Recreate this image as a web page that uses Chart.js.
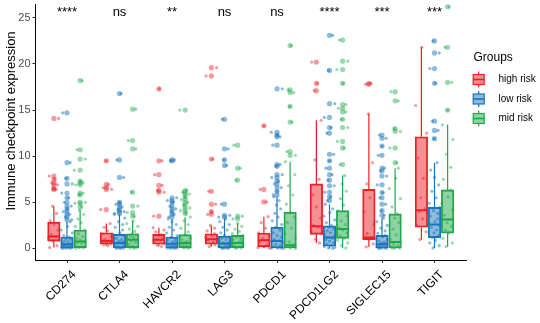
<!DOCTYPE html>
<html>
<head>
<meta charset="utf-8">
<script src="https://cdn.jsdelivr.net/npm/chart.js@4.4.1/dist/chart.umd.min.js"></script>
<style>
  html, body { margin: 0; padding: 0; background: #fff; }
  #wrap { width: 540px; height: 323px; }
</style>
</head>
<body>
<div id="wrap"><canvas id="chart" width="540" height="323"></canvas></div>
<script>
// ===== Immune checkpoint boxplot (high / low / mid risk) =====

const genes = ['CD274', 'CTLA4', 'HAVCR2', 'LAG3', 'PDCD1', 'PDCD1LG2', 'SIGLEC15', 'TIGIT'];
const groups = ['high risk', 'low risk', 'mid risk'];
const sigLabels = ['****', 'ns', '**', 'ns', 'ns', '****', '***', '***'];
const yTicks = [0, 5, 10, 15, 20, 25];

// box stats per gene: [lower whisker, q1, median, q3, upper whisker]
const highBox = [
    [0.1, 0.8, 1.3, 2.85, 4.6],
    [0.3, 0.46, 0.8, 1.7, 2.7],
    [0.2, 0.46, 0.95, 1.53, 2.25],
    [0.2, 0.46, 1.0, 1.6, 2.5],
    [0.05, 0.17, 0.9, 1.67, 3.45],
    [0.6, 1.53, 2.4, 7.0, 13.9],
    [0.17, 0.96, 1.18, 6.4, 14.6],
    [0.96, 2.3, 4.15, 12.1, 21.8]
];
const lowBox = [
    [0, 0.05, 0.45, 1.24, 2.9],
    [0, 0.05, 0.6, 1.53, 3.7],
    [0, 0.05, 0.5, 1.24, 3.2],
    [0, 0.05, 0.55, 1.32, 3.2],
    [0, 0.05, 0.8, 2.3, 5.6],
    [0, 0.25, 1.2, 2.45, 4.8],
    [0, 0.05, 0.45, 1.42, 3.3],
    [0.05, 1.18, 2.6, 4.45, 9.3]
];
const midBox = [
    [0, 0.1, 0.75, 2.0, 4.15],
    [0, 0.1, 0.95, 1.6, 3.0],
    [0, 0.1, 0.6, 1.5, 3.4],
    [0, 0.1, 0.6, 1.42, 2.7],
    [0, 0.05, 0.35, 3.92, 9.4],
    [0.05, 1.1, 2.1, 4.1, 7.9],
    [0, 0.05, 0.7, 3.75, 8.7],
    [0.2, 1.67, 3.14, 6.35, 13.4]
];

// outliers (drawn at the box centre)
const highOut = [
    [14.1, 7.85, 7.5, 7.1, 6.9, 6.5, 6.4],
    [9.5, 6.95, 6.6, 6.4, 4.2],
    [17.3, 9.5, 8.0, 6.85, 6.3, 6.1, 3.5],
    [19.6, 18.7, 9.7, 6.2, 4.8, 4.0, 3.7],
    [13.3, 6.4, 5.05],
    [20.2, 17.9, 17.1],
    [17.9, 17.8],
    []
];
const lowOut = [
    [14.7, 9.3, 7.6, 7.0, 6.0, 5.5, 5.0, 4.6, 4.3, 4.0, 3.7, 3.4, 3.1],
    [16.8, 9.6, 7.7, 5.0, 4.8, 4.5, 4.2, 4.0, 3.8],
    [9.6, 9.5, 5.5, 5.2, 5.0, 4.6, 4.3, 4.0, 3.7, 3.4],
    [14.0, 10.8, 9.6, 9.0, 4.8, 3.6, 3.4],
    [17.3, 12.6, 12.3, 12.1, 11.2, 9.1, 8.9, 8.0, 7.7, 7.3, 7.0, 6.6, 6.2, 5.8],
    [23.1, 19.3, 15.7, 14.2, 13.1, 12.5, 10.2, 9.5, 8.7, 8.0, 7.4, 6.8, 6.1, 5.6, 5.2],
    [12.3, 11.95, 11.1, 10.1, 8.7, 8.4, 7.85, 6.9, 6.06, 5.5, 4.8, 4.1, 3.6],
    [22.5, 21.2, 19.5, 17.9, 13.8, 12.8, 11.9]
];
const midOut = [
    [18.2, 10.7, 9.7, 8.5, 7.3, 7.1, 6.9, 6.0, 5.8, 5.0, 4.9, 4.5],
    [15.1, 11.7, 10.8, 6.1, 4.6, 3.9, 3.5],
    [15.0, 6.3, 6.1, 5.9, 5.6, 5.3, 5.0, 4.7, 4.4, 4.1, 3.8],
    [11.2, 8.7, 7.4, 3.5, 3.2],
    [22.0, 17.2, 16.9, 15.4, 13.7, 10.5, 10.1],
    [22.6, 20.3, 19.4, 17.9, 15.6, 15.2, 14.8, 14.0, 13.1, 11.6, 10.9, 9.1],
    [17.0, 16.0, 13.0, 12.7, 10.9, 9.3],
    [26.2, 21.8, 18.0, 15.0]
];

// sample values inside the whiskers (jittered points)
const highVals = [
    [0.1, 0.3, 0.8, 0.9, 1.1, 1.3, 1.5, 2.0, 2.6, 3.0, 3.8, 4.6],
    [0.3, 0.4, 0.5, 0.6, 0.8, 0.8, 1.0, 1.3, 1.6, 1.9, 2.3, 2.7],
    [0.2, 0.35, 0.5, 0.7, 0.9, 1.0, 1.2, 1.4, 1.5, 1.8, 2.0, 2.25],
    [0.2, 0.4, 0.5, 0.7, 0.9, 1.0, 1.2, 1.4, 1.6, 1.9, 2.2, 2.5],
    [0.05, 0.1, 0.2, 0.4, 0.7, 0.9, 1.1, 1.4, 1.7, 2.2, 2.8, 3.45],
    [0.6, 1.0, 1.6, 1.9, 2.3, 2.5, 3.3, 4.5, 5.8, 7.5, 9.6, 13.9],
    [0.17, 0.5, 1.0, 1.1, 1.2, 1.6, 2.6, 4.0, 5.5, 7.0, 9.3, 14.6],
    [0.96, 1.8, 2.5, 3.2, 4.0, 4.3, 5.5, 7.6, 9.8, 12.5, 15.5, 21.8]
];
const lowVals = [
    [0.0, 0.02, 0.03, 0.05, 0.08, 0.1, 0.15, 0.2, 0.28, 0.35, 0.42, 0.48, 0.55, 0.65, 0.75, 0.85, 1.0, 1.1, 1.24, 1.4, 1.7, 2.0, 2.4, 2.9],
    [0.0, 0.02, 0.04, 0.06, 0.1, 0.18, 0.25, 0.35, 0.45, 0.55, 0.62, 0.7, 0.8, 0.95, 1.1, 1.3, 1.5, 1.7, 2.0, 2.3, 2.6, 2.9, 3.3, 3.7],
    [0.0, 0.02, 0.04, 0.06, 0.1, 0.15, 0.22, 0.3, 0.38, 0.45, 0.52, 0.6, 0.7, 0.8, 0.92, 1.05, 1.2, 1.4, 1.7, 2.0, 2.3, 2.6, 2.9, 3.2],
    [0.0, 0.02, 0.04, 0.06, 0.1, 0.16, 0.24, 0.32, 0.4, 0.5, 0.56, 0.64, 0.74, 0.85, 0.97, 1.1, 1.25, 1.45, 1.7, 2.0, 2.3, 2.6, 2.9, 3.2],
    [0.0, 0.02, 0.05, 0.1, 0.2, 0.3, 0.45, 0.6, 0.75, 0.85, 1.0, 1.2, 1.4, 1.7, 2.0, 2.3, 2.6, 3.0, 3.4, 3.8, 4.3, 4.7, 5.2, 5.6],
    [0.0, 0.05, 0.12, 0.2, 0.3, 0.45, 0.6, 0.8, 0.95, 1.1, 1.2, 1.35, 1.5, 1.7, 1.9, 2.1, 2.3, 2.5, 2.8, 3.1, 3.5, 3.9, 4.3, 4.8],
    [0.0, 0.02, 0.04, 0.06, 0.1, 0.15, 0.22, 0.3, 0.38, 0.45, 0.52, 0.6, 0.7, 0.82, 0.95, 1.1, 1.25, 1.42, 1.65, 1.9, 2.2, 2.5, 2.9, 3.3],
    [0.05, 0.3, 0.6, 0.9, 1.18, 1.4, 1.7, 2.0, 2.3, 2.5, 2.7, 2.9, 3.2, 3.5, 3.8, 4.1, 4.45, 4.9, 5.5, 6.2, 6.9, 7.7, 8.5, 9.3]
];
const midVals = [
    [0.0, 0.05, 0.1, 0.2, 0.35, 0.5, 0.65, 0.75, 0.9, 1.1, 1.3, 1.6, 2.0, 2.4, 2.8, 3.2, 3.7, 4.15],
    [0.0, 0.05, 0.1, 0.25, 0.45, 0.65, 0.8, 0.95, 1.05, 1.2, 1.35, 1.5, 1.6, 1.85, 2.1, 2.4, 2.7, 3.0],
    [0.0, 0.05, 0.1, 0.2, 0.3, 0.45, 0.55, 0.65, 0.8, 0.95, 1.1, 1.3, 1.5, 1.8, 2.2, 2.6, 3.0, 3.4],
    [0.0, 0.05, 0.1, 0.2, 0.3, 0.45, 0.55, 0.65, 0.8, 0.95, 1.1, 1.25, 1.42, 1.6, 1.85, 2.1, 2.4, 2.7],
    [0.0, 0.05, 0.1, 0.2, 0.3, 0.4, 0.7, 1.1, 1.6, 2.2, 2.8, 3.4, 3.92, 4.8, 5.8, 6.8, 8.0, 9.4],
    [0.05, 0.3, 0.6, 0.9, 1.1, 1.4, 1.7, 2.0, 2.2, 2.6, 3.0, 3.5, 4.1, 4.7, 5.4, 6.2, 7.0, 7.9],
    [0.0, 0.02, 0.05, 0.15, 0.3, 0.5, 0.7, 1.0, 1.5, 2.1, 2.8, 3.3, 3.75, 4.5, 5.4, 6.5, 7.6, 8.7],
    [0.2, 0.6, 1.1, 1.67, 2.0, 2.4, 2.8, 3.14, 3.6, 4.2, 4.9, 5.6, 6.35, 7.5, 8.8, 10.2, 11.8, 13.4]
];

// fixed horizontal jitter pattern (x units)
const JITTER = [-0.08, 0.06, -0.02, 0.1, -0.1, 0.03, -0.05, 0.08, 0.0, -0.07, 0.05, -0.03,
                0.09, -0.09, 0.02, -0.04, 0.07, -0.01, 0.04, -0.06, 0.1, -0.11, 0.01, 0.06];

const COLORS = ['#EE1F26', '#1B75BC', '#1FA84B'];
const FILLS = ['rgba(238,31,38,0.5)', 'rgba(27,117,188,0.5)', 'rgba(31,168,75,0.5)'];
const PT_FILLS = ['rgba(238,31,38,0.45)', 'rgba(27,117,188,0.5)', 'rgba(31,168,75,0.45)'];
const SHIFT = [-0.25, 0, 0.25];
const HALF_BOX = 0.118;
const FONT = '"Liberation Sans", Arial, sans-serif';

const boxSets = [highBox, lowBox, midBox];
const outSets = [highOut, lowOut, midOut];
const valSets = [highVals, lowVals, midVals];

Chart.defaults.font.family = FONT;

function buildDatasets() {
    const datasets = [];
    groups.forEach((g, gi) => {
        const boxes = boxSets[gi];
        const centers = genes.map((_, i) => i + SHIFT[gi]);

        // boxes (q1..q3) as floating bars
        datasets.push({
            type: 'bar',
            label: g,
            data: boxes.map((b, i) => ({ x: centers[i], y: [b[1], b[3]] })),
            backgroundColor: FILLS[gi],
            borderColor: COLORS[gi],
            borderWidth: 1.2,
            borderSkipped: false,
            grouped: false,
            barThickness: 12.5,
            order: 4
        });

        // whiskers
        const whisk = [];
        boxes.forEach((b, i) => {
            whisk.push({ x: centers[i], y: b[3] }, { x: centers[i], y: b[4] }, { x: centers[i], y: null });
            whisk.push({ x: centers[i], y: b[0] }, { x: centers[i], y: b[1] }, { x: centers[i], y: null });
        });
        datasets.push({
            type: 'line',
            data: whisk,
            borderColor: COLORS[gi],
            borderWidth: 1.2,
            pointRadius: 0,
            spanGaps: false,
            fill: false,
            order: 3
        });

        // medians
        const med = [];
        boxes.forEach((b, i) => {
            med.push({ x: centers[i] - HALF_BOX, y: b[2] }, { x: centers[i] + HALF_BOX, y: b[2] }, { x: centers[i], y: null });
        });
        datasets.push({
            type: 'line',
            data: med,
            borderColor: COLORS[gi],
            borderWidth: 2,
            pointRadius: 0,
            spanGaps: false,
            fill: false,
            order: 3
        });

        // outliers
        const outs = [];
        outSets[gi].forEach((arr, i) => arr.forEach(v => outs.push({ x: centers[i], y: v })));
        datasets.push({
            type: 'scatter',
            data: outs,
            backgroundColor: PT_FILLS[gi],
            borderWidth: 0,
            pointRadius: 2.6,
            order: 2
        });

        // jittered samples (inner values + outliers)
        const jit = [];
        genes.forEach((_, i) => {
            const all = valSets[gi][i].concat(outSets[gi][i]);
            all.forEach((v, k) => jit.push({ x: centers[i] + JITTER[(k + i * 5) % JITTER.length], y: v }));
        });
        datasets.push({
            type: 'scatter',
            data: jit,
            backgroundColor: PT_FILLS[gi],
            borderWidth: 0,
            pointRadius: 1.6,
            order: 1
        });
    });
    return datasets;
}

// gene labels, legend, p-value labels and y title
const extrasPlugin = {
    id: 'extras',
    afterDraw(chart) {
        const ctx = chart.ctx;
        const xs = chart.scales.x;
        const ys = chart.scales.y;
        ctx.save();

        // significance labels
        ctx.fillStyle = '#000';
        ctx.textAlign = 'center';
        ctx.textBaseline = 'alphabetic';
        ctx.font = '13px ' + FONT;
        sigLabels.forEach((s, i) => {
            ctx.fillText(s, xs.getPixelForValue(i), ys.getPixelForValue(25) - 1.5);
        });

        // rotated gene labels under the x axis
        ctx.font = '12px ' + FONT;
        ctx.textAlign = 'right';
        ctx.textBaseline = 'top';
        genes.forEach((g, i) => {
            ctx.save();
            ctx.translate(xs.getPixelForValue(i) + 3, xs.top + 8.5);
            ctx.rotate(-Math.PI / 4);
            ctx.fillText(g, 0, 0);
            ctx.restore();
        });

        // y axis title
        ctx.save();
        ctx.translate(11, 121);
        ctx.rotate(-Math.PI / 2);
        ctx.textAlign = 'center';
        ctx.textBaseline = 'middle';
        ctx.font = '13px ' + FONT;
        ctx.fillText('Immune checkpoint expression', 0, 0);
        ctx.restore();

        // legend
        ctx.textAlign = 'left';
        ctx.textBaseline = 'middle';
        ctx.fillStyle = '#000';
        ctx.font = '12px ' + FONT;
        ctx.fillText('Groups', 473.5, 58);
        ctx.font = '10px ' + FONT;
        groups.forEach((g, gi) => {
            const cy = 79.5 + gi * 19.5;
            const cx = 478.7;
            ctx.strokeStyle = COLORS[gi];
            ctx.lineWidth = 1.2;
            ctx.beginPath();
            ctx.moveTo(cx, cy - 8); ctx.lineTo(cx, cy - 5);
            ctx.moveTo(cx, cy + 5); ctx.lineTo(cx, cy + 8);
            ctx.stroke();
            ctx.fillStyle = FILLS[gi];
            ctx.fillRect(cx - 5.5, cy - 5, 11, 10);
            ctx.strokeRect(cx - 5.5, cy - 5, 11, 10);
            ctx.lineWidth = 1.6;
            ctx.beginPath();
            ctx.moveTo(cx - 5.5, cy); ctx.lineTo(cx + 5.5, cy);
            ctx.stroke();
            ctx.fillStyle = '#000';
            ctx.fillText(g, 498.5, cy);
        });
        ctx.restore();
    }
};

new Chart(document.getElementById('chart'), {
    type: 'bar',
    data: { datasets: buildDatasets() },
    options: {
        responsive: false,
        animation: false,
        devicePixelRatio: 1,
        layout: { padding: { left: 0, right: 74, top: -2, bottom: 0 } },
        plugins: {
            legend: { display: false },
            tooltip: { enabled: false }
        },
        scales: {
            x: {
                type: 'linear',
                offset: false,
                min: -0.6,
                max: 7.6,
                afterBuildTicks: (scale) => { scale.ticks = genes.map((_, i) => ({ value: i })); },
                afterFit: (scale) => {
                    scale.height = 63;
                    scale.paddingLeft = 0;
                    scale.paddingRight = 0;
                },
                ticks: { display: false },
                grid: { offset: false, drawOnChartArea: false, tickLength: 3, tickColor: '#333' },
                border: { display: true, color: '#000', width: 1 }
            },
            y: {
                type: 'linear',
                min: -1.25,
                max: 26.5,
                afterBuildTicks: (scale) => { scale.ticks = yTicks.map(v => ({ value: v })); },
                afterFit: (scale) => {
                    scale.width = 35.5;
                    scale.paddingTop = 0;
                    scale.paddingBottom = 0;
                },
                ticks: { color: '#4D4D4D', padding: 2, font: { size: 11 } },
                grid: { drawOnChartArea: false, tickLength: 3, tickColor: '#333' },
                border: { display: true, color: '#000', width: 1 }
            }
        }
    },
    plugins: [extrasPlugin]
});
</script>
</body>
</html>
